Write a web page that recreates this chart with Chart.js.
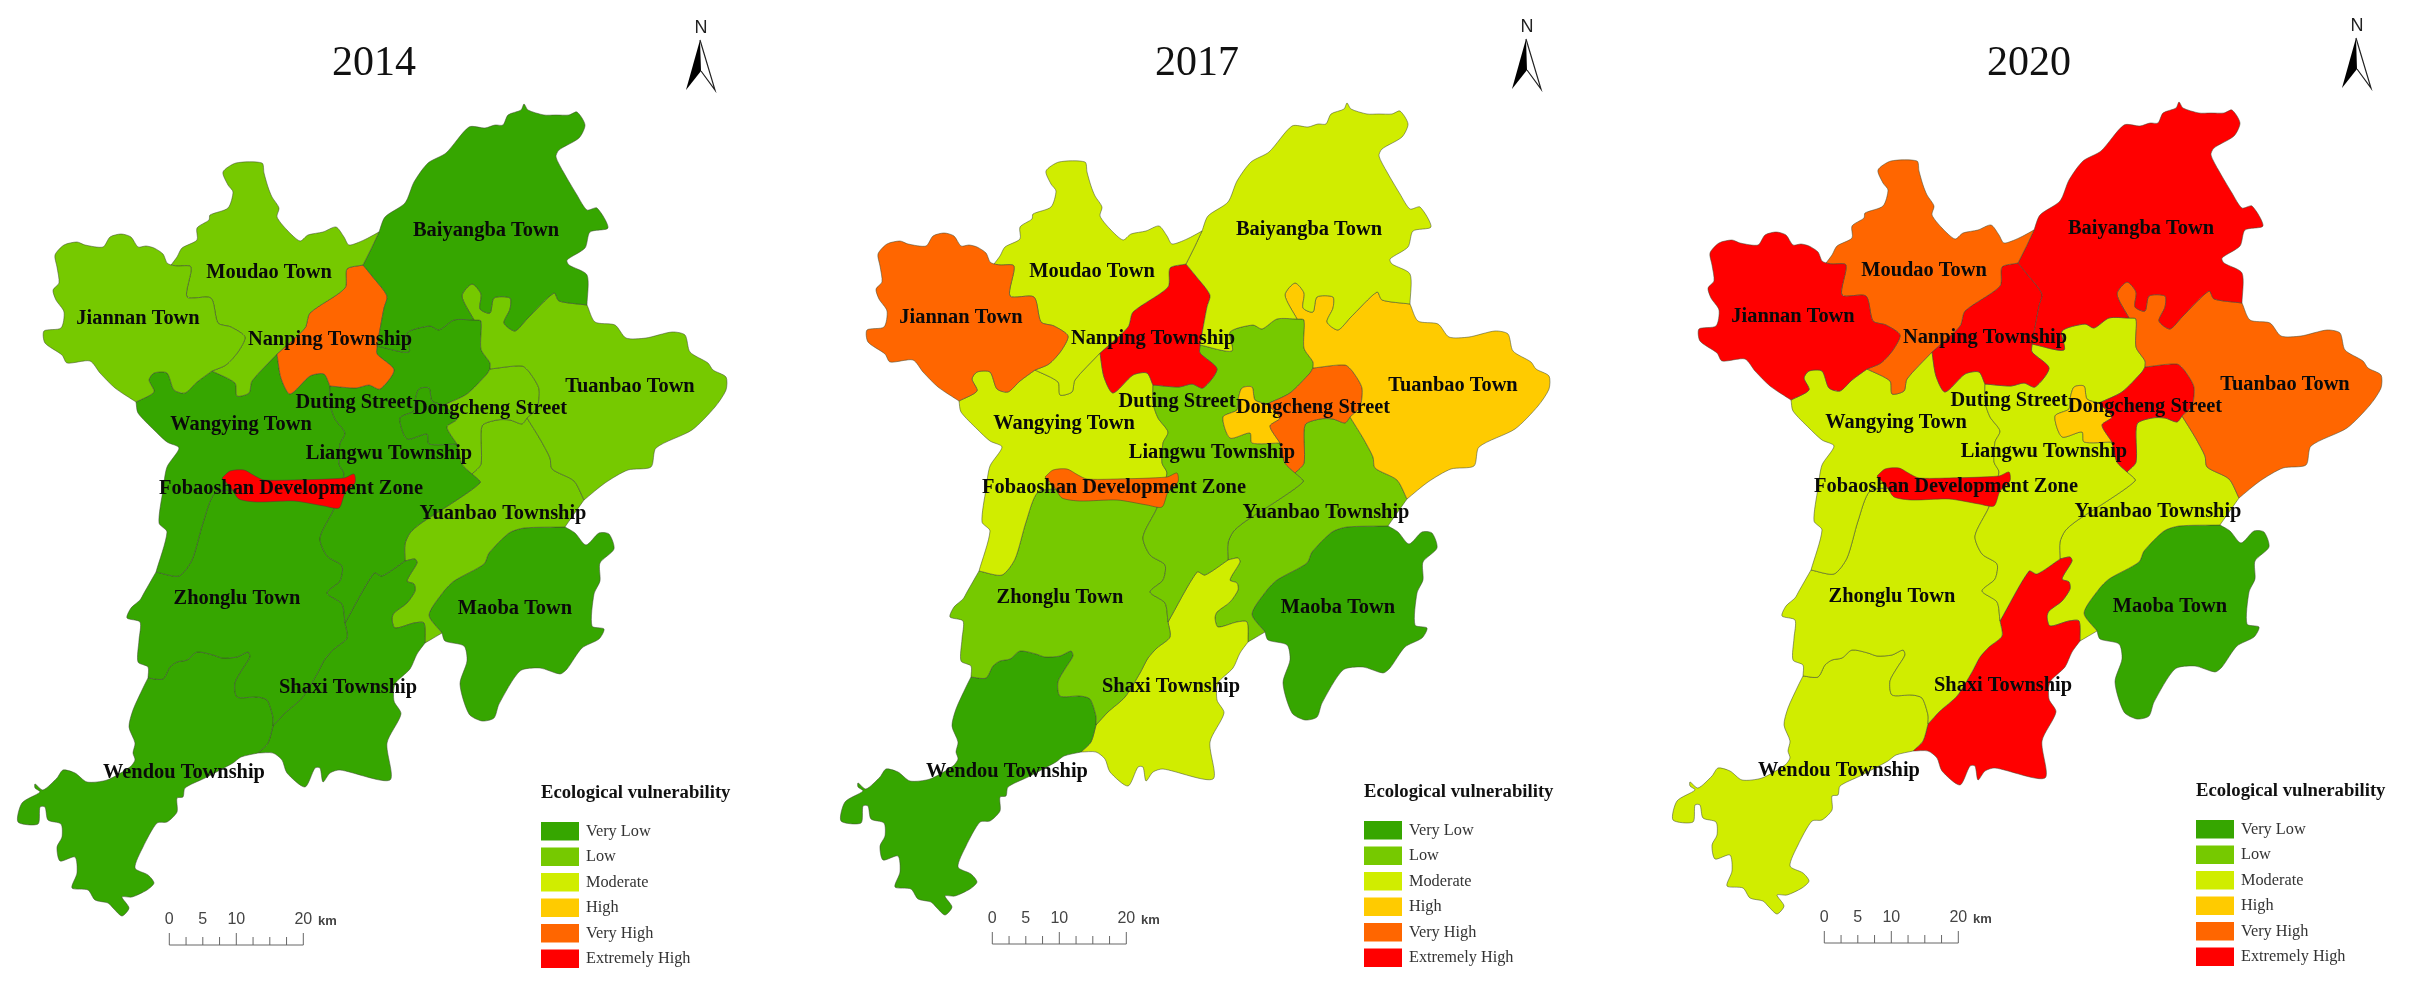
<!DOCTYPE html>
<html><head><meta charset="utf-8"><title>Ecological vulnerability</title>
<script src="https://cdn.jsdelivr.net/npm/chart.js@4"></script>
<style>html,body{margin:0;padding:0;background:#fff;overflow:hidden}
canvas{position:absolute;filter:blur(0.45px)}</style></head><body>
<canvas id="c0"></canvas><canvas id="c1"></canvas><canvas id="c2"></canvas>
<script>
// Categories and tick labels
const years = ['2014','2017','2020'];
const levelNames = ['Very Low','Low','Moderate','High','Very High','Extremely High'];
const levelColors = ['#36a600','#76c900','#d0ed00','#ffcb00','#ff6600','#ff0000'];
const scaleTicksKm = [0,5,10,20];
const regionNames = ['Jiannan Town','Moudao Town','Baiyangba Town','Nanping Township','Tuanbao Town','Dongcheng Street','Duting Street','Liangwu Township','Wangying Town','Zhonglu Town','Wendou Township','Shaxi Township','Yuanbao Township','Maoba Town','Fobaoshan Development Zone'];
// Vulnerability level (index into levelNames) per region and year
const levels2014 = [1,1,0,4,1,1,0,0,0,0,0,0,1,0,5];
const levels2017 = [4,2,2,5,3,4,3,1,2,1,0,2,1,0,4];
const levels2020 = [5,4,5,5,4,5,3,2,2,2,2,5,2,0,5];
// Label anchors in map units
const labelX = [138,269,486,330,630,490,354,389,241,237,184,348,503,515,291];
const labelY = [319,273,231,340,387,409,403,454,425,599,773,688,514,609,489];
// Panel placement
const panelLeft = [0,823,1655];
const panelTop = [0,-1,-2];
const northX = [701,704,702];
// Shared boundary chains in map units
const jiannanWest=[[171,265],[167,263],[163,254],[154,248],[146,246],[138,247],[131,237],[121,234],[110,237],[103,247],[85,245],[77,242],[64,245],[55,255],[57,267],[59,283],[53,290],[56,300],[64,312],[61,328],[44,331],[45,343],[62,355],[67,363],[90,361],[100,373],[115,388],[136,402]];
const jiannanWangying=[[136,402],[154,392],[149,380],[154,373],[167,373],[174,390],[185,393],[197,382],[212,371]];
const jiannanMoudao=[[212,371],[226,365],[238,352],[245,337],[231,327],[218,323],[211,298],[187,297],[191,267],[177,266],[171,265]];
const moudaoNorth=[[171,265],[177,257],[182,248],[197,240],[197,228],[209,220],[210,215],[228,208],[233,192],[228,185],[223,172],[236,163],[262,163],[264,173],[268,187],[272,197],[279,208],[277,217],[287,230],[300,241],[308,235],[323,232],[336,227],[344,237],[349,245],[364,240],[379,232]];
const moudaoBaiyangba=[[379,232],[372,247],[363,265]];
const nanpingMoudao=[[363,265],[347,269],[345,288],[310,313],[305,328],[277,354]];
const moudaoWangying=[[277,354],[252,381],[249,393],[237,396],[235,383],[212,371]];
const nanpingWangying=[[277,354],[281,378],[290,394],[310,376],[324,374],[330,386]];
const nanpingLiangwu=[[330,386],[356,388],[369,385],[380,389],[394,370],[377,354],[377,346]];
const nanpingBaiyangba=[[377,346],[384,308],[387,296],[372,276],[363,265]];
const baiyangbaNorth=[[379,232],[385,217],[405,203],[414,182],[428,163],[446,153],[469,127],[485,128],[495,125],[503,125],[508,115],[521,110],[524,104],[528,110],[544,115],[556,115],[569,115],[577,112],[585,125],[579,138],[559,150],[556,157],[564,173],[577,195],[587,210],[597,208],[608,228],[590,232],[585,248],[567,260],[569,265],[587,275],[587,305]];
const baiyangbaTuanbao=[[587,305],[559,301],[554,293],[527,319],[515,331],[504,323],[510,309],[510,298],[494,298],[490,313],[480,309],[481,294],[472,284],[462,296],[474,320]];
const baiyangbaLiangwu=[[474,320],[454,320],[439,330],[430,326],[407,333],[409,352],[377,346]];
const tuanbaoLiangwu=[[474,320],[481,321],[481,349],[490,363],[490,369]];
const tuanbaoDongcheng=[[490,369],[522,366],[530,373],[539,389],[537,408],[527,418]];
const tuanbaoYuanbao=[[527,418],[540,439],[550,458],[552,469],[574,481],[584,500]];
const tuanbaoEast=[[584,500],[605,483],[628,470],[651,467],[656,448],[692,430],[715,407],[726,390],[726,377],[713,370],[708,363],[690,352],[685,335],[672,332],[646,338],[626,338],[615,325],[595,322],[587,305]];
const dongchengLiangwuN=[[490,369],[487,374],[467,394],[444,405]];
const dongchengYuanbao=[[527,418],[522,424],[510,420],[497,420],[482,426],[481,464],[472,474]];
const dongchengLiangwuS=[[472,474],[462,464],[457,444]];
const dongchengDuting=[[457,444],[447,427],[457,419],[444,405]];
const dutingLiangwu=[[444,405],[432,401],[429,388],[419,389],[415,401],[414,411],[400,418],[407,439],[427,434],[429,444],[457,444]];
const liangwuYuanbao=[[472,474],[480,483],[420,524],[410,533],[405,544],[405,561]];
const liangwuShaxi=[[405,561],[382,576],[374,573],[345,623]];
const liangwuZhonglu=[[345,623],[342,604],[327,593],[340,581],[342,566],[327,556],[320,538],[334,509],[339,490]];
const liangwuWangying=[[339,490],[344,474],[339,464],[340,444],[345,433],[335,419],[330,404],[330,386]];
const wangyingZhonglu=[[339,490],[240,490],[215,493],[203,523],[192,560],[179,576],[156,572]];
const wangyingWest=[[156,572],[167,532],[159,523],[163,490],[167,467],[179,448],[167,442],[154,430],[138,413],[136,402]];
const shaxiZhonglu=[[345,623],[347,638],[334,649],[325,659],[317,674],[302,698],[285,713],[273,726]];
const zhongluWendou=[[273,726],[273,717],[267,700],[257,697],[237,697],[235,683],[242,670],[250,657],[248,652],[237,657],[222,658],[213,655],[197,652],[187,660],[177,662],[170,667],[163,679],[148,678]];
const zhongluWest=[[148,678],[148,667],[138,662],[139,640],[140,622],[127,618],[131,608],[140,600],[144,593],[156,572]];
const shaxiWendou=[[273,726],[268,743],[258,753]];
const wendouCoast=[[258,753],[241,757],[233,763],[205,778],[185,788],[183,797],[177,798],[177,812],[167,822],[157,823],[143,847],[135,868],[148,875],[154,883],[147,890],[132,897],[122,897],[129,908],[122,916],[113,908],[108,903],[95,900],[88,890],[72,888],[77,873],[75,857],[60,861],[57,847],[62,837],[61,824],[48,820],[45,807],[40,807],[38,824],[18,822],[22,803],[40,792],[35,788],[35,784],[43,790],[57,778],[63,770],[75,773],[87,782],[107,780],[130,767],[135,760],[133,753],[135,743],[129,727],[133,710],[143,688],[148,678]];
const shaxiYuanbao=[[405,561],[415,559],[417,563],[407,581],[414,584],[415,591],[407,603],[394,613],[392,619],[395,628],[414,623],[424,623],[425,643]];
const shaxiCoast=[[425,643],[417,654],[410,669],[395,684],[394,701],[401,714],[387,743],[390,780],[340,770],[330,773],[323,782],[320,768],[315,768],[305,787],[287,773],[282,760],[273,753],[258,753]];
const yuanbaoCoast=[[584,500],[567,524],[565,527]];
const yuanbaoMaoba=[[565,527],[524,528],[509,533],[489,553],[484,564],[454,581],[444,591],[429,615],[442,633]];
const yuanbaoTip=[[442,633],[425,643]];
const maobaCoast=[[442,633],[445,641],[464,646],[467,661],[460,684],[469,714],[482,721],[494,718],[499,704],[520,671],[540,668],[560,674],[567,669],[582,648],[599,639],[604,629],[592,626],[594,594],[600,581],[600,563],[614,549],[609,534],[599,533],[586,545],[575,533],[565,527]];
const fobaoshanOutline=[[222,478],[230,471],[244,470],[255,476],[264,480],[294,480],[344,478],[354,474],[355,483],[345,493],[339,508],[324,506],[294,501],[257,502],[239,499],[232,489],[222,478]];

const rev = a => a.slice().reverse();
const ring = (...parts) => parts.flat();
const regionOutlines = [
  ring(jiannanWest,jiannanWangying,jiannanMoudao),
  ring(moudaoNorth,moudaoBaiyangba,nanpingMoudao,moudaoWangying,jiannanMoudao),
  ring(baiyangbaNorth,baiyangbaTuanbao,baiyangbaLiangwu,nanpingBaiyangba,rev(moudaoBaiyangba)),
  ring(nanpingMoudao,nanpingWangying,nanpingLiangwu,nanpingBaiyangba),
  ring(baiyangbaTuanbao,tuanbaoLiangwu,tuanbaoDongcheng,tuanbaoYuanbao,tuanbaoEast),
  ring(tuanbaoDongcheng,dongchengYuanbao,dongchengLiangwuS,dongchengDuting,rev(dongchengLiangwuN)),
  ring(dutingLiangwu,dongchengDuting),
  ring(nanpingLiangwu,rev(baiyangbaLiangwu),tuanbaoLiangwu,dongchengLiangwuN,dutingLiangwu,rev(dongchengLiangwuS),liangwuYuanbao,liangwuShaxi,liangwuZhonglu,liangwuWangying),
  ring(jiannanWangying,rev(moudaoWangying),nanpingWangying,rev(liangwuWangying),wangyingZhonglu,wangyingWest),
  ring(rev(wangyingZhonglu),rev(liangwuZhonglu),shaxiZhonglu,zhongluWendou,zhongluWest),
  ring(rev(zhongluWendou),shaxiWendou,wendouCoast),
  ring(rev(liangwuShaxi),shaxiYuanbao,shaxiCoast,rev(shaxiWendou),rev(shaxiZhonglu)),
  ring(rev(dongchengYuanbao),tuanbaoYuanbao,yuanbaoCoast,yuanbaoMaoba,yuanbaoTip,rev(shaxiYuanbao),rev(liangwuYuanbao)),
  ring(yuanbaoMaoba,maobaCoast),
  fobaoshanOutline
];
const levelsByYear = [levels2014,levels2017,levels2020];

const SERIF = '"Liberation Serif","Times New Roman",serif';
const SANS = '"Liberation Sans",Arial,sans-serif';

const mapDecor = {
  id:'mapDecor',
  afterDraw(chart, args, opts){
    const {ctx,scales:{x,y}} = chart;
    const X = v => x.getPixelForValue(v), Y = v => y.getPixelForValue(v);
    ctx.save();
    // region names
    ctx.textAlign='center'; ctx.textBaseline='middle'; ctx.fillStyle='#0a0a0a';
    ctx.font='bold 20.4px '+SERIF;
    regionNames.forEach((n,i)=>ctx.fillText(n,X(labelX[i]),Y(labelY[i])));
    // legend
    ctx.textAlign='left';
    ctx.font='bold 18.7px '+SERIF; ctx.fillStyle='#111';
    ctx.fillText('Ecological vulnerability',X(541),Y(793));
    ctx.font='16.3px '+SERIF; 
    levelNames.forEach((n,i)=>{
      const top=822+i*25.5;
      ctx.fillStyle=levelColors[i];
      ctx.fillRect(X(541),Y(top),38,18.5);
      ctx.fillStyle='#333';
      ctx.fillText(n,X(586),Y(top+9.5));
    });
    // scale bar
    const kmToMap = km => 169.3+km*6.7;
    ctx.strokeStyle='#666'; ctx.lineWidth=1;
    ctx.beginPath();
    ctx.moveTo(X(kmToMap(0)),Y(933)); ctx.lineTo(X(kmToMap(0)),Y(945)); ctx.lineTo(X(kmToMap(20)),Y(945)); ctx.lineTo(X(kmToMap(20)),Y(933));
    for(let km=2.5;km<20;km+=2.5){ const major=km===10; ctx.moveTo(X(kmToMap(km)),Y(major?933:937)); ctx.lineTo(X(kmToMap(km)),Y(945)); }
    ctx.stroke();
    ctx.fillStyle='#444'; ctx.textAlign='center'; ctx.font='16px '+SANS;
    scaleTicksKm.forEach(k=>ctx.fillText(String(k),X(kmToMap(k)),Y(920)));
    ctx.textAlign='left'; ctx.font='bold 13px '+SANS;
    ctx.fillText('km',X(318),Y(921));
    // north arrow
    const nx=opts.northX;
    ctx.fillStyle='#222'; ctx.textAlign='center'; ctx.font='18px '+SANS;
    ctx.fillText('N',X(nx),Y(28));
    ctx.fillStyle='#000';
    ctx.beginPath(); ctx.moveTo(X(nx-1),Y(40)); ctx.lineTo(X(nx-15),Y(90)); ctx.lineTo(X(nx),Y(71)); ctx.closePath(); ctx.fill();
    ctx.strokeStyle='#222'; ctx.lineWidth=1.2;
    ctx.beginPath(); ctx.moveTo(X(nx-1),Y(40)); ctx.lineTo(X(nx+14),Y(90)); ctx.lineTo(X(nx),Y(71)); ctx.stroke();
    ctx.restore();
  }
};

years.forEach((yr,p)=>{
  const cv=document.getElementById('c'+p);
  cv.width=748; cv.height=993;
  cv.style.left=panelLeft[p]+'px'; cv.style.top=panelTop[p]+'px';
  cv.style.width='748px'; cv.style.height='993px';
  const titlePad = 39 - panelTop[p];
  const titleSize = 42;
  new Chart(cv,{
    type:'scatter',
    data:{datasets:regionNames.map((n,i)=>({
      label:n,
      order:i===regionNames.length-1?-1:0,
      data:regionOutlines[i].map(([x,y])=>({x,y})),
      showLine:true,tension:0.25,fill:'shape',
      backgroundColor:levelColors[levelsByYear[p][i]],
      borderColor:'rgba(62,72,50,0.62)',borderWidth:0.85,pointRadius:0,pointHoverRadius:0
    }))},
    plugins:[mapDecor],
    options:{
      responsive:false,animation:false,devicePixelRatio:1,
      layout:{padding:0},
      scales:{
        x:{type:'linear',display:false,min:0,max:748},
        y:{type:'linear',display:false,reverse:true,min:titlePad+titleSize*1.2,max:993}
      },
      plugins:{
        legend:{display:false},tooltip:{enabled:false},
        title:{display:true,text:yr,color:'#111',font:{family:SERIF,size:titleSize,weight:'normal',lineHeight:1.2},padding:{top:titlePad,bottom:0}},
        mapDecor:{northX:northX[p]}
      }
    }
  });
});
</script></body></html>
